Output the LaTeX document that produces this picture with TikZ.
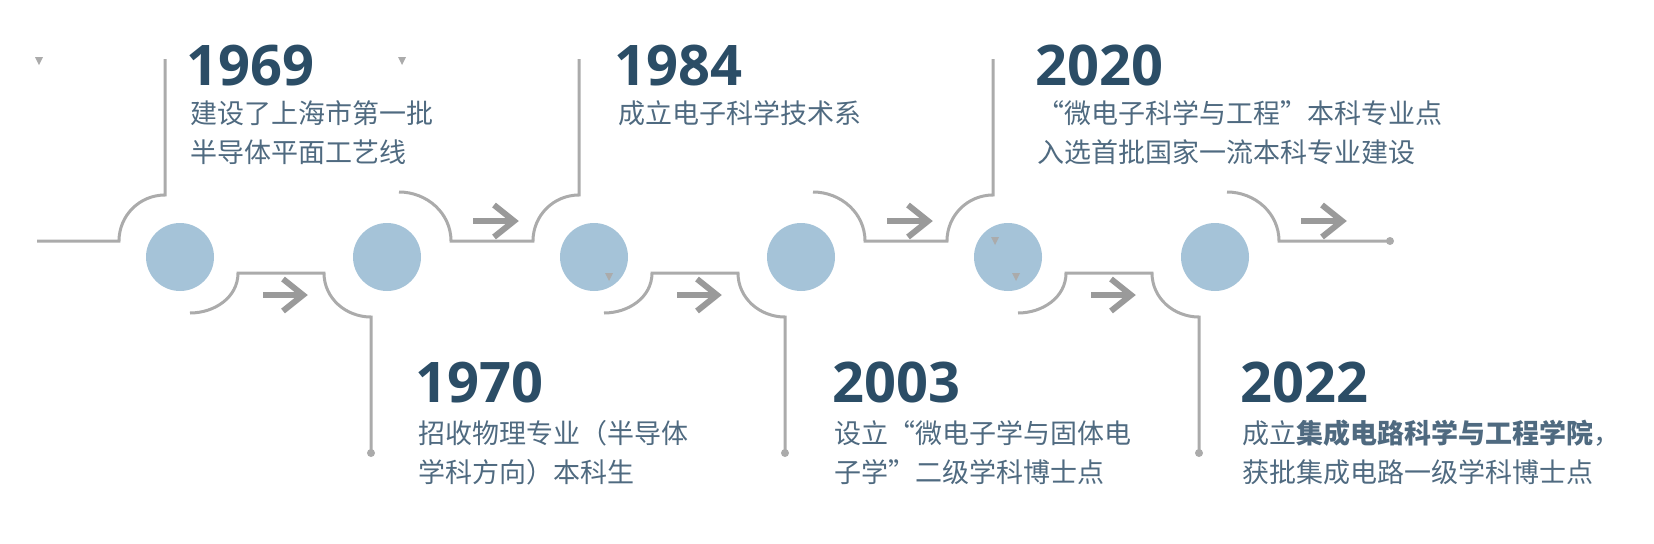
\documentclass[tikz,border=0pt]{standalone}
\usepackage{fontspec}
\setmainfont{Open Sans}
\newfontfamily\cjk{Noto Sans CJK SC}
\usetikzlibrary{positioning}
\definecolor{yearblue}{HTML}{2B4D66}
\definecolor{descblue}{HTML}{4F6A80}
\definecolor{dotblue}{HTML}{A5C3D8}
\definecolor{linegray}{HTML}{ABABAB}

\begin{document}
\begin{tikzpicture}[x=0.5pt,y=0.5pt]
\tikzstyle{dot} = [circle, fill=dotblue, minimum size=34pt, inner sep=0pt]
\tikzstyle{track} = [draw=linegray, line width=1.5pt]
\tikzstyle{chev} = [draw=linegray!90!black, line width=3pt]
\tikzstyle{year} = [anchor=base west, inner sep=0pt, text=yearblue,
font=\fontsize{28pt}{28pt}\selectfont\bfseries]
\tikzstyle{desc} = [anchor=north west, inner sep=0pt, text=descblue, align=left,
font=\fontsize{13.5pt}{19.5pt}\cjk]
\tikzstyle{tick} = [fill=linegray]
\useasboundingbox (0,0) rectangle (1654,543);

% milestones
\foreach \i/\cx in {1/180,2/387,3/594,4/801,5/1008,6/1215}
  \node[dot] (c\i) at (\cx,286) {};

% top track
\draw[track] (37,302) -- (119,302) to[out=90,in=180] (165,348) -- (165,484);
\foreach \e/\c in {387/594,801/1008}
  \draw[track] (\e+12,351) to[out=0,in=90] (\e+64,302) -- (\c-61,302)
    to[out=90,in=180] (\c-15,348) -- (\c-15,484);
\draw[track] (1227,351) to[out=0,in=90] (1279,302) -- (1390,302);
\fill[linegray] (1390,302) circle (4);

% bottom track
\foreach \c in {180,594,1008} {
  \draw[track] (\c+10,230) to[out=0,in=-90] (\c+58,270) -- (\c+144,270)
    to[out=-90,in=180] (\c+191,226) -- (\c+191,90);
  \fill[linegray] (\c+191,90) circle (4);
  \draw[chev] (\c+83,248) -- (\c+121,248);
  \draw[chev, line join=miter] (\c+103,264) -- (\c+123,248) -- (\c+103,232);
}
\foreach \e in {387,801,1215} {
  \draw[chev] (\e+86,322) -- (\e+125,322);
  \draw[chev, line join=miter] (\e+107,338) -- (\e+127,322) -- (\e+107,306);
}

% stray ticks
\foreach \tx/\ty in {39/482,402/482,609/266,995/302,1016/266}
  \fill[tick] (\tx-4,\ty+4) -- (\tx+4,\ty+4) -- (\tx,\ty-4) -- cycle;

% labels
\node[year] (y1969) at (186,458) {1969};
\node[desc] (d1969) at (190,443) {建设了上海市第一批\\半导体平面工艺线};
\node[year] (y1984) at (614,458) {1984};
\node[desc] (d1984) at (618,443) {成立电子科学技术系};
\node[year] (y2020) at (1035,458) {2020};
\node[desc] (d2020) at (1037,443) {“微电子科学与工程”本科专业点\\入选首批国家一流本科专业建设};
\node[year] (y1970) at (415,141) {1970};
\node[desc] (d1970) at (418,123) {招收物理专业（半导体\\学科方向）本科生};
\node[year] (y2003) at (832,141) {2003};
\node[desc] (d2003) at (834,123) {设立“微电子学与固体电\\子学”二级学科博士点};
\node[year] (y2022) at (1240,141) {2022};
\node[desc] (d2022) at (1242,123) {成立\textbf{集成电路科学与工程学院}，\\获批集成电路一级学科博士点};
\end{tikzpicture}
\end{document}
